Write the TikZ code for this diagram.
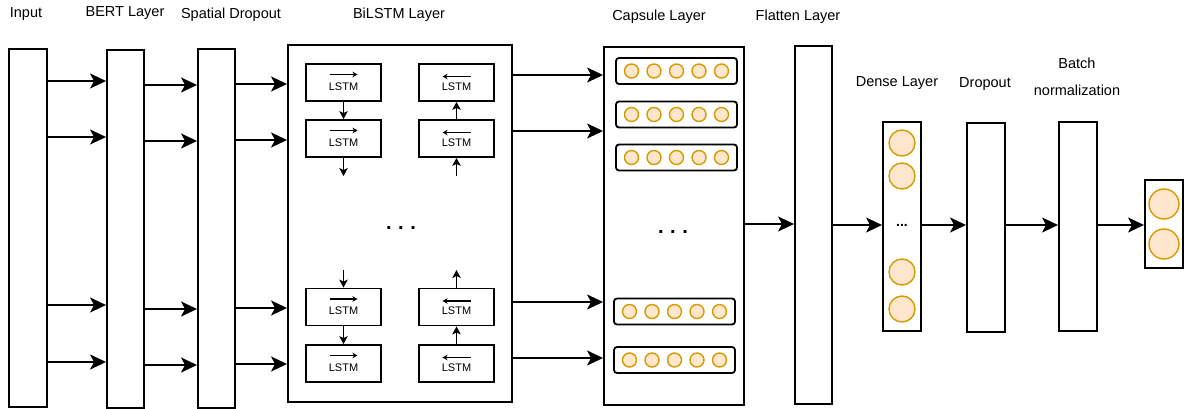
\documentclass[tikz,border=0pt]{standalone}
\usepackage{fontspec}
\setmainfont{Liberation Sans}
\usetikzlibrary{arrows.meta}
\definecolor{capsfill}{HTML}{FFE6CC}
\definecolor{capsline}{HTML}{D79B00}
\begin{document}
\begin{tikzpicture}[x=1pt,y=-1pt,
  box/.style={draw,line width=1.9pt,inner sep=0pt,fill=white},
  cell/.style={draw,line width=1.8pt,minimum width=75pt,minimum height=37pt,inner sep=0pt},
  cellt/.style={yshift=-4pt,font=\fontsize{11}{12}\selectfont},
  caprow/.style={draw,line width=1.8pt,rounded corners=3pt,minimum width=121pt,minimum height=26pt,inner sep=0pt},
  capc/.style={circle,draw=capsline,fill=capsfill,line width=1.4pt,minimum size=14pt,inner sep=0pt},
  lbl/.style={font=\fontsize{14.5}{16}\selectfont,inner sep=0pt},
  arr/.style={line width=1.9pt,-{Stealth[length=16pt,width=15pt,inset=4pt]}},
  sarr/.style={line width=1.6pt,-{Stealth[length=8pt,width=8.5pt,inset=2pt]}},
  tarr/.style={line width=1.3pt,-{Stealth[length=5pt,width=5.5pt,inset=1.5pt]}}]
\path[use as bounding box] (0,0) rectangle (1185,409);

% labels
\node[lbl] (tInput) at (26,14) {Input};
\node[lbl] (tBert) at (125,13) {BERT Layer};
\node[lbl] (tSd) at (231,15) {Spatial Dropout};
\node[lbl] (tBil) at (399,15) {BiLSTM Layer};
\node[lbl] (tCaps) at (659,17) {Capsule Layer};
\node[lbl] (tFlat) at (798,17) {Flatten Layer};
\node[lbl] (tDense) at (897,83) {Dense Layer};
\node[lbl] (tDrop) at (985,84) {Dropout};
\node[lbl] (tBatch) at (1077,63) {Batch};
\node[lbl] (tNorm) at (1077,90) {normalization};

% layer boxes
\node[box,minimum width=38pt,minimum height=358pt] (inp) at (28,228) {};
\node[box,minimum width=37pt,minimum height=358pt] (bert) at (125.5,229) {};
\node[box,minimum width=37pt,minimum height=359pt] (sd) at (216.5,228.5) {};
\node[box,minimum width=224pt,minimum height=357pt] (bil) at (400,223.5) {};
\node[box,minimum width=140pt,minimum height=358pt] (caps) at (674,226) {};
\node[box,minimum width=37pt,minimum height=358pt] (flat) at (813.5,225) {};
\node[box,minimum width=38pt,minimum height=209pt] (dense) at (902,226.5) {};
\node[box,minimum width=38pt,minimum height=209pt] (drop) at (986,227.5) {};
\node[box,minimum width=38pt,minimum height=209pt] (bn) at (1078,226.5) {};
\node[box,minimum width=38pt,minimum height=88pt] (out) at (1164,224) {};

% input -> bert -> sd -> bilstm
\foreach \y in {81,137,305,362} \draw[arr] (inp.east |- 0,\y) -- (bert.west |- 0,\y);
\foreach \y in {85,141,309,365} \draw[arr] (bert.east |- 0,\y) -- (sd.west |- 0,\y);
\foreach \y in {84,140,308,364} \draw[arr] (sd.east |- 0,\y) -- (bil.west |- 0,\y);

% LSTM cells
\node[cell,label={[cellt]center:LSTM}] (l1) at (343.5,82.5) {};
\node[cell,label={[cellt]center:LSTM}] (l2) at (343.5,138.5) {};
\node[cell,label={[cellt]center:LSTM}] (l3) at (343.5,307) {};
\node[cell,label={[cellt]center:LSTM}] (l4) at (343.5,363.5) {};
\node[cell,label={[cellt]center:LSTM}] (r1) at (456.5,82.5) {};
\node[cell,label={[cellt]center:LSTM}] (r2) at (456.5,138.5) {};
\node[cell,label={[cellt]center:LSTM}] (r3) at (456.5,307) {};
\node[cell,label={[cellt]center:LSTM}] (r4) at (456.5,363.5) {};
\foreach \c in {l1,l2,l3,l4}
  \draw[tarr] ([xshift=-14pt,yshift=8pt]\c.center) -- ([xshift=14pt,yshift=8pt]\c.center);
\foreach \c in {r1,r2,r3,r4}
  \draw[tarr] ([xshift=14pt,yshift=6pt]\c.center) -- ([xshift=-14pt,yshift=6pt]\c.center);

\coordinate (lo1) at (343.5,176);
\coordinate (ri1) at (456.5,176);
\coordinate (lo2) at (343.5,270);
\coordinate (ri2) at (456.5,270);
\draw[sarr] (l1.south) -- (l2.north);
\draw[sarr] (l2.south) -- (lo1);
\draw[sarr] (ri1) -- (r2.south);
\draw[sarr] (r2.north) -- (r1.south);
\draw[sarr] (lo2) -- (l3.north);
\draw[sarr] (l3.south) -- (l4.north);
\draw[sarr] (r4.north) -- (r3.south);
\draw[sarr] (r3.north) -- (ri2);

\node[inner sep=0pt,font=\fontsize{20}{20}\selectfont\bfseries] (bdots) at (401,228) {.\,\,.\,\,.};

% capsules
\node[caprow] (c1) at (676.5,71) {};
\node[caprow] (c2) at (676.5,114.5) {};
\node[caprow] (c3) at (676.5,157.5) {};
\node[caprow] (c4) at (674.5,311.5) {};
\node[caprow] (c5) at (674.5,360) {};
\foreach \r in {c1,c2,c3,c4,c5}
  \foreach \dx [count=\i] in {-45,-22.5,0,22.5,45}
    \node[capc] (\r-\i) at ([xshift=\dx pt]\r.center) {};
\node[inner sep=0pt,font=\fontsize{20}{20}\selectfont\bfseries] (cdots) at (673,232) {.\,\,.\,\,.};

\foreach \y in {75,131,302,358} \draw[arr] (bil.east |- 0,\y) -- (caps.west |- 0,\y);

% dense
\node[capc,minimum size=26pt] (d1) at (902,143) {};
\node[capc,minimum size=26pt] (d2) at (902,176) {};
\node[capc,minimum size=26pt] (d3) at (902,272) {};
\node[capc,minimum size=26pt] (d4) at (902,309) {};
\node[inner sep=0pt,font=\fontsize{14}{14}\selectfont\bfseries] (ddots) at (902,225) {...};

% output
\node[capc,minimum size=30pt] (o1) at (1164,204) {};
\node[capc,minimum size=30pt] (o2) at (1164,244) {};

% right chain
\draw[arr] (caps.east |- 0,224) -- (flat.west |- 0,224);
\draw[arr] (flat.east |- 0,225) -- (dense.west |- 0,225);
\draw[arr] (dense.east |- 0,225) -- (drop.west |- 0,225);
\draw[arr] (drop.east |- 0,225) -- (bn.west |- 0,225);
\draw[arr] (bn.east |- 0,225) -- (out.west |- 0,225);
\end{tikzpicture}
\end{document}
